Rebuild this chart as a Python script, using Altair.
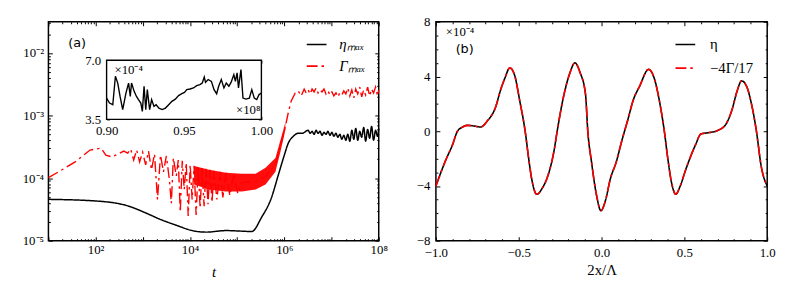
import altair as alt
import pandas as pd

SERIF = "Liberation Serif"
SANS = "DejaVu Sans"
RED = "#ff0000"
DASHDOT = [11, 4, 2.5, 4]

# ---------------- panel (a) : eta_max (smooth part) ----------------
eta_t = [10, 97, 480, 1090, 2250, 5380, 1.11e4, 2.19e4, 5.76e4, 1.25e5, 2.03e5,
         3.29e5, 5.33e5, 7.48e5, 1.0e6, 1.21e6, 1.55e6, 1.97e6, 2.39e6]
eta_v = [4.58e-5, 4.32e-5, 3.60e-5, 2.83e-5, 2.22e-5, 1.74e-5, 1.45e-5, 1.37e-5,
         1.45e-5, 1.42e-5, 1.40e-5, 2.36e-5, 4.87e-5, 1.135e-4, 2.34e-4, 3.62e-4,
         4.67e-4, 5.21e-4, 5.21e-4]

# ---------------- panel (a) : Gamma_max (oscillating part + rise) ----------------
gam_t = [10, 17.9, 36.9, 76.3, 130, 165, 221, 296, 395, 480, 555, 641, 741, 857, 991,
         1150, 1320, 1530, 1770, 2050, 2370, 2740, 3160, 3660, 4030, 4440, 5130, 5650,
         6220, 6860, 7550, 8320, 9170, 1.01e4, 1.11e4, 1.22e4, 1.35e4, 1.49e4,
         1.64e4, 1.80e4, 1.99e4, 2.19e4, 2.41e4, 2.66e4, 2.93e4, 3.22e4, 3.72e4, 4.31e4,
         4.98e4, 5.76e4, 7.00e4, 8.49e4, 1.03e5, 1.25e5,
         2.46e5, 3.99e5, 6.47e5, 8.24e5, 1.05e6, 1.21e6, 1.40e6, 1.70e6,
         1.97e6, 2.28e6, 2.63e6]
gam_v = [1.02e-4, 1.31e-4, 1.82e-4, 2.81e-4, 3.02e-4, 2.34e-4, 2.18e-4, 2.43e-4, 2.71e-4,
         2.52e-4, 2.91e-4, 1.95e-4, 2.81e-4, 1.82e-4, 2.61e-4, 1.63e-4, 2.71e-4, 1.36e-4,
         2.43e-4, 4.58e-5, 2.34e-4, 1.26e-4, 2.26e-4, 9.46e-5, 3.96e-5, 2.10e-4, 1.09e-4,
         1.95e-4, 2.86e-5, 1.89e-4, 6.59e-5, 1.75e-4, 2.48e-5, 1.63e-4, 4.58e-5, 1.57e-4,
         2.57e-5, 1.51e-4,
         3.31e-5, 1.46e-4, 3.56e-5, 1.41e-4, 3.83e-5, 1.36e-4, 4.11e-5, 1.31e-4, 4.58e-5,
         1.26e-4, 4.93e-5, 1.22e-4, 5.30e-5, 1.18e-4, 5.70e-5, 8.50e-5,
         8.81e-5, 1.06e-4, 1.63e-4, 3.25e-4, 6.71e-4, 1.11e-3, 1.72e-3, 2.30e-3,
         2.48e-3, 2.06e-3, 2.66e-3]

# dense oscillation core of Gamma_max (upper / lower envelope)
band_t = [1.22e4, 2.53e4, 5.76e4, 1.25e5, 2.46e5, 3.99e5, 6.47e5, 8.24e5, 1.05e6]
band_hi = [1.57e-4, 1.36e-4, 1.22e-4, 1.18e-4, 1.18e-4, 1.46e-4, 2.10e-4, 4.04e-4, 7.76e-4]
band_lo = [7.90e-5, 6.59e-5, 6.13e-5, 6.13e-5, 6.59e-5, 7.90e-5, 1.26e-4, 2.61e-4, 5.81e-4]

# saturated (noisy) regime
plat_t = [2.90e6, 3.19e6, 3.52e6, 3.87e6, 4.27e6, 4.70e6, 5.18e6, 5.70e6, 6.28e6, 6.92e6,
          7.62e6, 8.39e6, 9.25e6, 1.02e7, 1.12e7, 1.24e7, 1.36e7, 1.50e7, 1.65e7, 1.82e7,
          2.01e7, 2.21e7, 2.44e7, 2.69e7, 2.96e7, 3.26e7, 3.59e7, 3.96e7, 4.36e7, 4.80e7,
          5.28e7, 5.82e7, 6.41e7, 7.06e7, 7.78e7, 8.57e7, 9.44e7, 1.0e8]
gam_plat = [2.30e-3, 2.57e-3, 2.22e-3, 2.66e-3, 2.39e-3, 2.76e-3, 2.30e-3, 2.57e-3, 2.39e-3,
            2.66e-3, 2.22e-3, 2.48e-3, 2.14e-3, 2.39e-3, 2.06e-3, 2.30e-3, 1.99e-3, 2.30e-3,
            2.14e-3, 2.48e-3, 2.22e-3, 2.76e-3, 2.06e-3, 2.57e-3, 1.92e-3, 2.66e-3, 2.22e-3,
            2.86e-3, 1.99e-3, 2.57e-3, 2.14e-3, 2.86e-3, 2.06e-3, 2.66e-3, 2.30e-3, 2.86e-3,
            2.06e-3, 2.57e-3]
eta_plat = [5.81e-4, 5.21e-4, 5.60e-4, 5.02e-4, 5.81e-4, 5.21e-4, 5.60e-4, 4.84e-4, 5.40e-4,
            5.02e-4, 5.60e-4, 4.84e-4, 5.40e-4, 4.67e-4, 5.21e-4, 4.50e-4, 5.02e-4, 4.19e-4,
            4.84e-4, 4.04e-4, 5.02e-4, 3.90e-4, 5.81e-4, 4.19e-4, 6.24e-4, 4.04e-4, 5.60e-4,
            4.50e-4, 6.47e-4, 3.90e-4, 6.02e-4, 4.34e-4, 6.71e-4, 4.04e-4, 5.81e-4, 4.67e-4,
            6.24e-4]

# inset: eta_max for t in [0.9, 1.0] x 1e8 (values x 1e-4)
inset_t = [0.9000, 0.9019, 0.9040, 0.9057, 0.9072, 0.9087, 0.9104, 0.9125, 0.9142, 0.9153,
           0.9161, 0.9178, 0.9193, 0.9206, 0.9221, 0.9231, 0.9242, 0.9253, 0.9263, 0.9278,
           0.9291, 0.9306, 0.9320, 0.9338, 0.9359, 0.9380, 0.9401, 0.9422, 0.9444, 0.9465,
           0.9486, 0.9503, 0.9518, 0.9539, 0.9561, 0.9582, 0.9603, 0.9618, 0.9631, 0.9639,
           0.9656, 0.9677, 0.9694, 0.9711, 0.9724, 0.9741, 0.9758, 0.9773, 0.9790, 0.9804,
           0.9822, 0.9832, 0.9843, 0.9852, 0.9868, 0.9881, 0.9900, 0.9922, 0.9938, 0.9954,
           0.9970, 0.9985, 1.0000]
inset_v = [4.76, 4.47, 4.37, 6.05, 5.65, 4.86, 4.08, 5.06, 5.65, 4.86,
           5.65, 5.16, 4.86, 4.67, 4.47, 3.97, 5.46, 4.08, 5.26, 4.08,
           4.67, 4.27, 4.37, 4.17, 4.08, 4.17, 4.37, 4.57, 4.70, 4.91,
           5.02, 5.10, 5.26, 5.30, 5.36, 5.50, 5.56, 5.65, 6.01, 5.69,
           5.86, 5.75, 5.26, 5.02, 5.46, 5.86, 5.36, 5.65, 5.46, 5.69,
           6.15, 5.75, 6.25, 5.36, 6.45, 4.76, 4.70, 4.76, 5.26, 4.76,
           4.67, 4.97, 5.06]
INSET_X = [0.90, 1.00]
INSET_Y = [3.5, 7.0]

# ---------------- panel (b) ----------------
xb = [-1.00, -0.94, -0.90, -0.87, -0.84, -0.81, -0.77, -0.73, -0.69, -0.64, -0.61, -0.583,
      -0.554, -0.525, -0.494, -0.46, -0.44, -0.42, -0.391, -0.36, -0.325, -0.286, -0.268,
      -0.226, -0.19, -0.161, -0.13, -0.097, -0.083, -0.06, -0.03, -0.004, 0.025, 0.052,
      0.09, 0.12, 0.16, 0.19, 0.23, 0.284, 0.32, 0.349, 0.379, 0.40, 0.425, 0.448, 0.475,
      0.508, 0.567, 0.60, 0.65, 0.70, 0.75, 0.786, 0.82, 0.845, 0.875, 0.905, 0.935,
      0.964, 1.00]
etab = [-4.0, -2.09, -1.0, 0.0, 0.3, 0.43, 0.38, 0.31, 0.75, 1.75, 3.0, 3.9,
        4.63, 4.1, 2.23, -0.1, -2.0, -3.6, -4.61, -4.2, -3.29, -1.37, 0.0,
        2.72, 4.3, 5.0, 4.3, 2.72, 0.0, -2.3, -4.7, -5.81, -5.0, -3.53,
        -2.2, -0.8, 0.9, 2.23, 3.3, 4.52, 3.8, 2.23, 0.0, -2.0, -3.9, -4.61, -4.0,
        -2.81, -1.0, -0.2, -0.1, 0.05, 0.5, 1.51, 3.0, 3.68, 3.3, 2.0, 0.0,
        -2.57, -4.0]

SERIES_A = ["ηₘₐₓ", "Γₘₐₓ"]
SERIES_B = ["η", "−4Γ/17"]

# ---------------- frames ----------------
df_eta = pd.DataFrame({"t": eta_t + plat_t[1:], "v": eta_v + eta_plat, "s": SERIES_A[0]})
df_gam = pd.DataFrame({"t": gam_t + plat_t, "v": gam_v + gam_plat, "s": SERIES_A[1]})
df_band = pd.DataFrame({"t": band_t, "hi": band_hi, "lo": band_lo})
df_inset = pd.DataFrame({"t": inset_t, "v": inset_v})
df_box = pd.DataFrame({"x1": [INSET_X[0]], "x2": [INSET_X[1]], "y1": [INSET_Y[0]], "y2": [INSET_Y[1]]})
df_b1 = pd.DataFrame({"x": xb, "v": etab, "s": SERIES_B[0]})
df_b2 = pd.DataFrame({"x": xb, "v": etab, "s": SERIES_B[1]})
one = pd.DataFrame({"k": [0]})

W_A, W_B, H = 335, 336, 222


def ax(orient, values, size, shift=0, labels=False, expr=None, title=None, pad=4, **kw):
    d = dict(orient=orient, values=values, tickSize=size, offset=-(shift + size),
             labels=labels, domain=False, grid=False, title=title, ticks=True,
             labelPadding=pad, labelFlush=False, labelOverlap=False)
    if expr is not None:
        d["labelExpr"] = expr
    d.update(kw)
    return alt.Axis(**d)


SUP = {"0": "⁰", "1": "¹", "2": "²", "3": "³", "4": "⁴", "5": "⁵",
       "6": "⁶", "7": "⁷", "8": "⁸", "9": "⁹", "-": "⁻"}


def pow_label(exps):
    e = "round(log(datum.value)/LN10)"
    parts = []
    for k in exps:
        lab = "10" + "".join(SUP[c] for c in str(k))
        parts.append(f"({e}=={k})?'{lab}':")
    return "".join(parts) + "''"


# ---------------- panel (a) main ----------------
xs_a = alt.Scale(type="log", domain=[10, 1e8], nice=False)
ys_a = alt.Scale(type="log", domain=[1e-5, 10 ** -1.5], nice=False)
x_major = [1e1, 1e2, 1e3, 1e4, 1e5, 1e6, 1e7, 1e8]
x_minor = [m * 10 ** k for k in range(1, 8) for m in range(2, 10)]
y_major = [1e-5, 1e-4, 1e-3, 1e-2]
y_minor = [m * 10.0 ** k for k in range(-5, -1) for m in range(2, 10) if m * 10.0 ** k < 0.0316]

col_a = alt.Scale(domain=SERIES_A, range=["black", RED])
dash_a = alt.Scale(domain=SERIES_A, range=[[1, 0], DASHDOT])
leg_a = alt.Legend(orient="none", legendX=261, legendY=12, title=None, symbolType="stroke",
                   symbolSize=400, symbolStrokeWidth=1.6, labelFont=SERIF, labelFontSize=15,
                   labelFontStyle="italic", labelColor="black", labelOffset=12, rowPadding=3,
                   padding=0)

band = alt.Chart(df_band).mark_area(color=RED, opacity=0.95).encode(
    x=alt.X("t:Q", scale=xs_a,
            axis=ax("bottom", x_major, 4, labels=True, expr=pow_label([2, 4, 6, 8]),
                    title="t", pad=3, titleFontStyle="italic", titlePadding=8)),
    y=alt.Y("hi:Q", scale=ys_a,
            axis=ax("left", y_major, 4, labels=True, expr=pow_label([-5, -4, -3, -2]), pad=5)),
    y2="lo:Q",
)
eta_line = alt.Chart(df_eta).mark_line(strokeWidth=1.5, interpolate="monotone").encode(
    x=alt.X("t:Q", scale=xs_a, axis=ax("bottom", x_minor, 2)),
    y=alt.Y("v:Q", scale=ys_a, axis=ax("left", y_minor, 2)),
    color=alt.Color("s:N", scale=col_a, legend=leg_a),
    strokeDash=alt.StrokeDash("s:N", scale=dash_a, legend=leg_a),
)
gam_line = alt.Chart(df_gam).mark_line(strokeWidth=1.4).encode(
    x=alt.X("t:Q", scale=xs_a, axis=ax("top", x_major, 4)),
    y=alt.Y("v:Q", scale=ys_a, axis=ax("right", y_major, 4)),
    color=alt.Color("s:N", scale=col_a, legend=leg_a),
    strokeDash=alt.StrokeDash("s:N", scale=dash_a, legend=leg_a),
)
ghost_a = alt.Chart(df_eta).mark_point(opacity=0).encode(
    x=alt.X("t:Q", scale=xs_a, axis=ax("top", x_minor, 2)),
    y=alt.Y("v:Q", scale=ys_a, axis=ax("right", y_minor, 2)),
)
txt_a = alt.Chart(one).mark_text(text="(a)", font=SANS, fontSize=13, align="left",
                                 baseline="middle", color="black").encode(
    x=alt.value(20), y=alt.value(22))
txt_in1 = alt.Chart(one).mark_text(text="×10⁻⁴", font=SERIF, fontSize=13, align="left",
                                   baseline="middle", color="black").encode(
    x=alt.value(67), y=alt.value(49))
txt_in2 = alt.Chart(one).mark_text(text="×10⁸", font=SERIF, fontSize=13, align="right",
                                   baseline="middle", color="black").encode(
    x=alt.value(215), y=alt.value(90))

main_a = alt.layer(band, eta_line, gam_line, ghost_a, txt_a).resolve_axis(
    x="independent", y="independent")

# ---------------- inset ----------------
IX0, IX1, IY0, IY1 = 59, 216, 99, 39
xs_in = alt.Scale(domain=INSET_X, range=[IX0, IX1], nice=False, zero=False)
ys_in = alt.Scale(domain=INSET_Y, range=[IY0, IY1], nice=False, zero=False)
in_xt = [0.90, 0.925, 0.95, 0.975, 1.00]
in_yt = [3.5, 4.375, 5.25, 6.125, 7.0]
in_xexpr = "(abs(datum.value-0.925)<0.001||abs(datum.value-0.975)<0.001)?'':format(datum.value,'.2f')"
in_yexpr = "(abs(datum.value-3.5)<0.01||abs(datum.value-7)<0.01)?format(datum.value,'.1f'):''"

box = alt.Chart(df_box).mark_rect(fill="white", stroke="black", strokeWidth=1.4).encode(
    x=alt.X("x1:Q", scale=xs_in,
            axis=ax("bottom", in_xt, 3, shift=H - IY0, labels=True, expr=in_xexpr, pad=5)),
    x2="x2:Q",
    y=alt.Y("y1:Q", scale=ys_in,
            axis=ax("left", in_yt, 3, shift=IX0, labels=True, expr=in_yexpr, pad=6)),
    y2="y2:Q",
)
inset_line = alt.Chart(df_inset).mark_line(color="black", strokeWidth=1.4).encode(
    x=alt.X("t:Q", scale=xs_in, axis=ax("top", in_xt, 3, shift=IY1)),
    y=alt.Y("v:Q", scale=ys_in, axis=ax("right", in_yt, 3, shift=W_A - IX1)),
)
inset = alt.layer(box, inset_line, txt_in1, txt_in2).resolve_axis(x="independent", y="independent")

left = alt.layer(main_a, inset).resolve_scale(x="independent", y="independent").resolve_axis(
    x="independent", y="independent").properties(width=W_A, height=H)

# ---------------- panel (b) ----------------
xs_b = alt.Scale(domain=[-1, 1], nice=False, zero=False)
ys_b = alt.Scale(domain=[-8, 8], nice=False, zero=False)
bx_major = [-1.0, -0.5, 0.0, 0.5, 1.0]
bx_minor = [-0.9, -0.8, -0.7, -0.6, -0.4, -0.3, -0.2, -0.1, 0.1, 0.2, 0.3, 0.4, 0.6, 0.7, 0.8, 0.9]
by_major = [-8, -4, 0, 4, 8]
by_minor = [-7, -6, -5, -3, -2, -1, 1, 2, 3, 5, 6, 7]
col_b = alt.Scale(domain=SERIES_B, range=["black", RED])
dash_b = alt.Scale(domain=SERIES_B, range=[[1, 0], DASHDOT])
leg_b = alt.Legend(orient="none", legendX=242, legendY=12, title=None, symbolType="stroke",
                   symbolSize=400, symbolStrokeWidth=1.6, labelFont=SERIF, labelFontSize=15,
                   labelColor="black", labelOffset=14, rowPadding=5, padding=0)

b_eta = alt.Chart(df_b1).mark_line(strokeWidth=1.6, interpolate="monotone").encode(
    x=alt.X("x:Q", scale=xs_b,
            axis=ax("bottom", bx_major, 4, labels=True,
                    expr="replace(format(datum.value,'.1f'),'-','−')", pad=6,
                    title="2x/Λ", titlePadding=3)),
    y=alt.Y("v:Q", scale=ys_b,
            axis=ax("left", by_major, 4, labels=True,
                    expr="replace(format(datum.value,'d'),'-','−')", pad=6)),
    color=alt.Color("s:N", scale=col_b, legend=leg_b),
    strokeDash=alt.StrokeDash("s:N", scale=dash_b, legend=leg_b),
)
b_gam = alt.Chart(df_b2).mark_line(strokeWidth=1.6, interpolate="monotone").encode(
    x=alt.X("x:Q", scale=xs_b, axis=ax("bottom", bx_minor, 2)),
    y=alt.Y("v:Q", scale=ys_b, axis=ax("left", by_minor, 2)),
    color=alt.Color("s:N", scale=col_b, legend=leg_b),
    strokeDash=alt.StrokeDash("s:N", scale=dash_b, legend=leg_b),
)
ghost_b1 = alt.Chart(df_b1).mark_point(opacity=0).encode(
    x=alt.X("x:Q", scale=xs_b, axis=ax("top", bx_major, 4)),
    y=alt.Y("v:Q", scale=ys_b, axis=ax("right", by_major, 4)),
)
ghost_b2 = alt.Chart(df_b1).mark_point(opacity=0).encode(
    x=alt.X("x:Q", scale=xs_b, axis=ax("top", bx_minor, 2)),
    y=alt.Y("v:Q", scale=ys_b, axis=ax("right", by_minor, 2)),
)
txt_b = alt.Chart(one).mark_text(text="(b)", font=SANS, fontSize=13, align="left",
                                 baseline="middle", color="black").encode(
    x=alt.value(20), y=alt.value(28))
txt_b2 = alt.Chart(one).mark_text(text="×10⁻⁴", font=SERIF, fontSize=13, align="left",
                                  baseline="middle", color="black").encode(
    x=alt.value(10), y=alt.value(10))

right = alt.layer(b_eta, b_gam, ghost_b1, ghost_b2, txt_b, txt_b2).resolve_axis(
    x="independent", y="independent").properties(width=W_B, height=H)

chart = alt.hconcat(left, right, spacing=27).resolve_scale(
    color="independent", strokeDash="independent"
).properties(
    padding={"left": 13, "top": 5, "right": 5, "bottom": 5}
).configure_view(
    stroke="black", strokeWidth=1.5
).configure_axis(
    labelFont=SERIF, labelFontSize=13, labelColor="black", tickColor="black", tickWidth=1,
    titleFont=SERIF, titleFontSize=15, titleColor="black", titleFontWeight="normal",
    grid=False, domain=False
)

chart.save("out.html", embed_options={"renderer": "svg", "actions": False})
